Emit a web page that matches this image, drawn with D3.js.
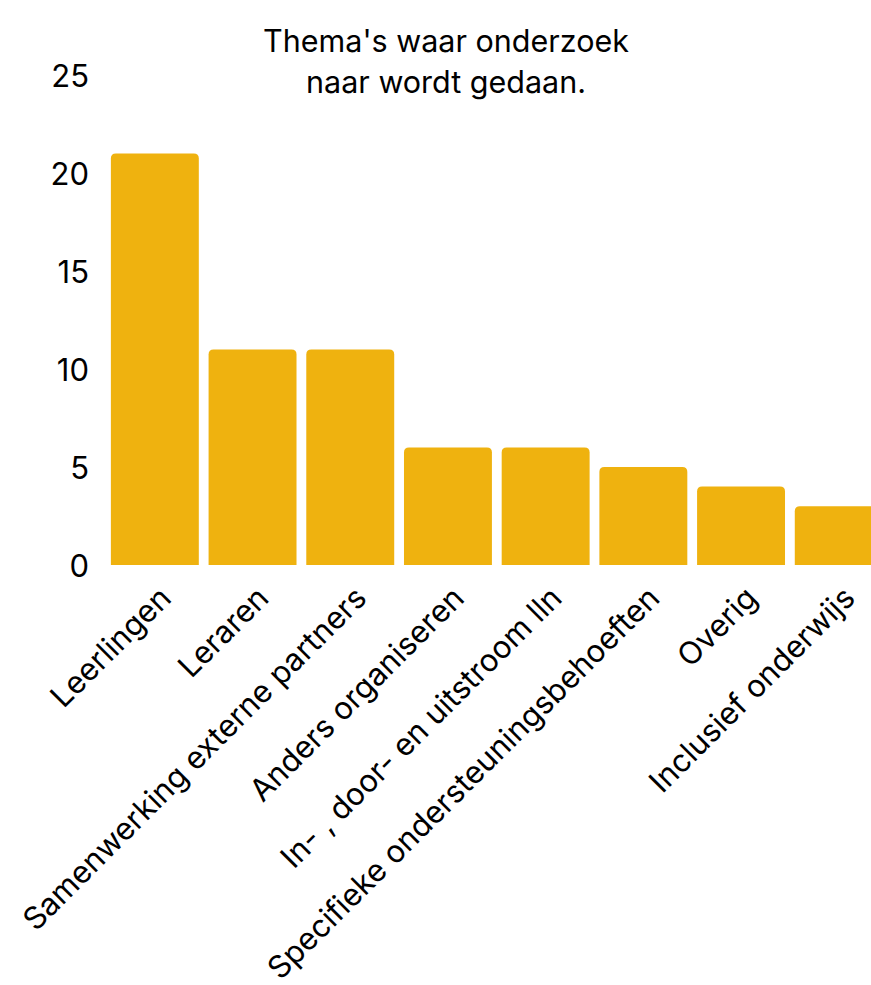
<!DOCTYPE html>
<html>
<head>
<meta charset="utf-8">
<script src="https://cdn.jsdelivr.net/npm/d3@7"></script>
<style>
  html, body { margin: 0; padding: 0; background: #fff; }
  svg { display: block; }
  text { font-family: Inter, "Liberation Sans", Arial, sans-serif; fill: #000; }
</style>
</head>
<body>
<svg id="chart" width="871" height="985"></svg>
<script>
const categories = [
  "Leerlingen",
  "Leraren",
  "Samenwerking externe partners",
  "Anders organiseren",
  "In- , door- en uitstroom lln",
  "Specifieke ondersteuningsbehoeften",
  "Overig",
  "Inclusief onderwijs"
];
const values = [21, 11, 11, 6, 6, 5, 4, 3];
const yTicks = [0, 5, 10, 15, 20, 25];
const titleLines = ["Thema's waar onderzoek", "naar wordt gedaan."];

const FONT = "Inter, Liberation Sans, Arial, sans-serif";
const svg = d3.select("#chart");

const x = d3.scaleBand()
  .domain(categories)
  .range([106, 887.6])
  .paddingInner(0.1)
  .paddingOuter(0.05);

const y = d3.scaleLinear()
  .domain([0, 25])
  .range([565, 75]);

const data = categories.map((c, i) => ({ cat: c, value: values[i] }));

const r = 5;
function barPath(d) {
  const x0 = x(d.cat), x1 = x0 + x.bandwidth();
  const y0 = y(d.value), y1 = y(0);
  return `M${x0},${y1}V${y0 + r}Q${x0},${y0} ${x0 + r},${y0}H${x1 - r}Q${x1},${y0} ${x1},${y0 + r}V${y1}Z`;
}
svg.append("g").selectAll("path")
  .data(data)
  .join("path")
  .attr("d", barPath)
  .attr("fill", "#efb20f");

const yAxis = d3.axisLeft(y).tickValues(yTicks).tickSize(0).tickPadding(0);
const gy = svg.append("g").attr("transform", "translate(89,0)").call(yAxis);
gy.select(".domain").remove();
gy.selectAll("text")
  .attr("font-size", 31)
  .attr("font-family", FONT)
  .attr("fill", "#000")
  .attr("dy", "0.36em");

const xAxis = d3.axisBottom(x).tickSize(0).tickPadding(0);
const gx = svg.append("g").attr("transform", "translate(0,565)").call(xAxis);
gx.select(".domain").remove();
gx.selectAll("text")
  .attr("font-size", 31)
  .attr("font-family", FONT)
  .attr("fill", "#000")
  .attr("text-anchor", "end")
  .attr("y", 0)
  .attr("dy", 0)
  .attr("transform", "translate(18,35) rotate(-45)");

svg.append("text")
  .attr("x", 446)
  .attr("y", 52)
  .attr("text-anchor", "middle")
  .attr("font-size", 30.5)
  .attr("font-family", FONT)
  .selectAll("tspan")
  .data(titleLines)
  .join("tspan")
  .attr("x", 446)
  .attr("dy", (d, i) => i === 0 ? 0 : 41)
  .text(d => d);
</script>
</body>
</html>
